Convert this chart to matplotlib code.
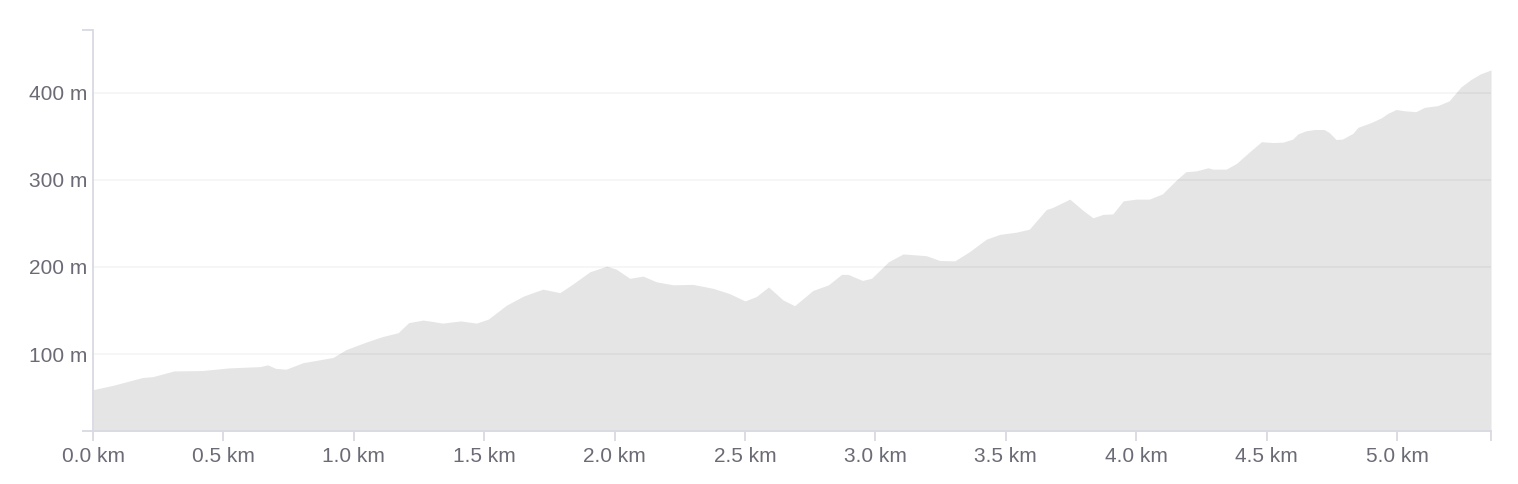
import matplotlib
matplotlib.use("Agg")
import matplotlib.pyplot as plt
from matplotlib.ticker import FuncFormatter, FixedLocator

dist_km = [0.0, 0.077, 0.19, 0.23, 0.31, 0.42, 0.52, 0.64, 0.67, 0.70, 0.74, 0.805,
           0.92, 0.97, 1.05, 1.11, 1.17, 1.21, 1.265, 1.30, 1.34, 1.41, 1.47, 1.515,
           1.585, 1.65, 1.687, 1.725, 1.79, 1.84, 1.905, 1.97, 2.006, 2.058, 2.109,
           2.16, 2.224, 2.30, 2.377, 2.44, 2.50, 2.543, 2.59, 2.646, 2.69, 2.76, 2.82,
           2.87, 2.895, 2.95, 2.985, 3.05, 3.106, 3.195, 3.246, 3.304, 3.36, 3.425,
           3.477, 3.54, 3.59, 3.655, 3.68, 3.745, 3.796, 3.834, 3.873, 3.91, 3.95,
           4.0, 4.05, 4.10, 4.154, 4.19, 4.23, 4.275, 4.294, 4.345, 4.384, 4.435,
           4.48, 4.525, 4.563, 4.60, 4.62, 4.65, 4.683, 4.72, 4.74, 4.766, 4.79,
           4.83, 4.85, 4.90, 4.94, 4.964, 4.996, 5.03, 5.072, 5.105, 5.156, 5.20,
           5.245, 5.283, 5.32, 5.36]
elev_m = [59, 64, 73, 74, 80.5, 81, 84, 85.5, 87.5, 83.5, 82.5, 90,
          96, 105, 114, 120, 124.5, 136, 139, 137.5, 135.5, 138, 135.5, 140,
          156, 166.5, 170.5, 174.5, 170.5, 180.5, 194.5, 201, 197.5, 187, 189.5,
          183, 179.5, 180, 175.5, 169.5, 161, 166, 177, 162, 155.5, 173, 179.5,
          191.5, 191.5, 184.5, 187, 206, 215, 213, 207.5, 207, 217.5, 232,
          237.5, 240, 243.5, 266, 268.5, 278, 265, 256.5, 260.5, 261, 276,
          278, 278, 284, 300, 309.5, 310.5, 314, 312.5, 312.5, 319, 332.5,
          344, 343, 343.5, 347, 353, 356.5, 358, 358, 354.5, 346.5, 347,
          353.5, 360.5, 366, 371.5, 376.5, 381, 379.5, 378.5, 383.5, 385.5, 391,
          407, 415.5, 422, 426.5]

x_ticks = [0.0, 0.5, 1.0, 1.5, 2.0, 2.5, 3.0, 3.5, 4.0, 4.5, 5.0]
y_ticks = [100, 200, 300, 400]
x_range = (0.0, 5.36)
y_range = (11.5, 472.4)

text_color = "#6b6b75"
axis_color = "#d9d9e3"
fill_color = "#e5e5e5"

plt.rcParams["font.family"] = ["Liberation Sans", "DejaVu Sans"]

fig = plt.figure(figsize=(15.18, 4.84), dpi=100)
ax = fig.add_axes([93 / 1518, 1 - 431 / 484, (1491 - 93) / 1518, (431 - 30) / 484])

ax.fill_between(dist_km, elev_m, y_range[0] - 50, color=fill_color, linewidth=0, zorder=1)

ax.set_xlim(*x_range)
ax.set_ylim(*y_range)

for v in y_ticks:
    ax.axhline(v, color="black", alpha=0.045, linewidth=1.2, zorder=2)

for s in ["top", "right"]:
    ax.spines[s].set_visible(False)
for s in ["left", "bottom"]:
    ax.spines[s].set_color(axis_color)
    ax.spines[s].set_linewidth(1.3)
    ax.spines[s].set_zorder(3)

ax.xaxis.set_major_locator(FixedLocator(x_ticks))
ax.xaxis.set_minor_locator(FixedLocator([x_range[1]]))
ax.xaxis.set_major_formatter(FuncFormatter(lambda v, p: f"{v:.1f} km"))
ax.yaxis.set_major_locator(FixedLocator(y_ticks))
ax.yaxis.set_minor_locator(FixedLocator([y_range[0], y_range[1]]))
ax.yaxis.set_major_formatter(FuncFormatter(lambda v, p: f"{v:.0f} m"))

ax.tick_params(axis="x", which="both", length=7.5, width=1.3, color=axis_color,
               labelcolor=text_color, labelsize=15, pad=4)
ax.tick_params(axis="y", which="major", length=0, labelcolor=text_color,
               labelsize=15, pad=3.8)
ax.tick_params(axis="y", which="minor", length=8, width=1.3, color=axis_color)

fig.savefig("out.png", dpi=100, facecolor="white")
